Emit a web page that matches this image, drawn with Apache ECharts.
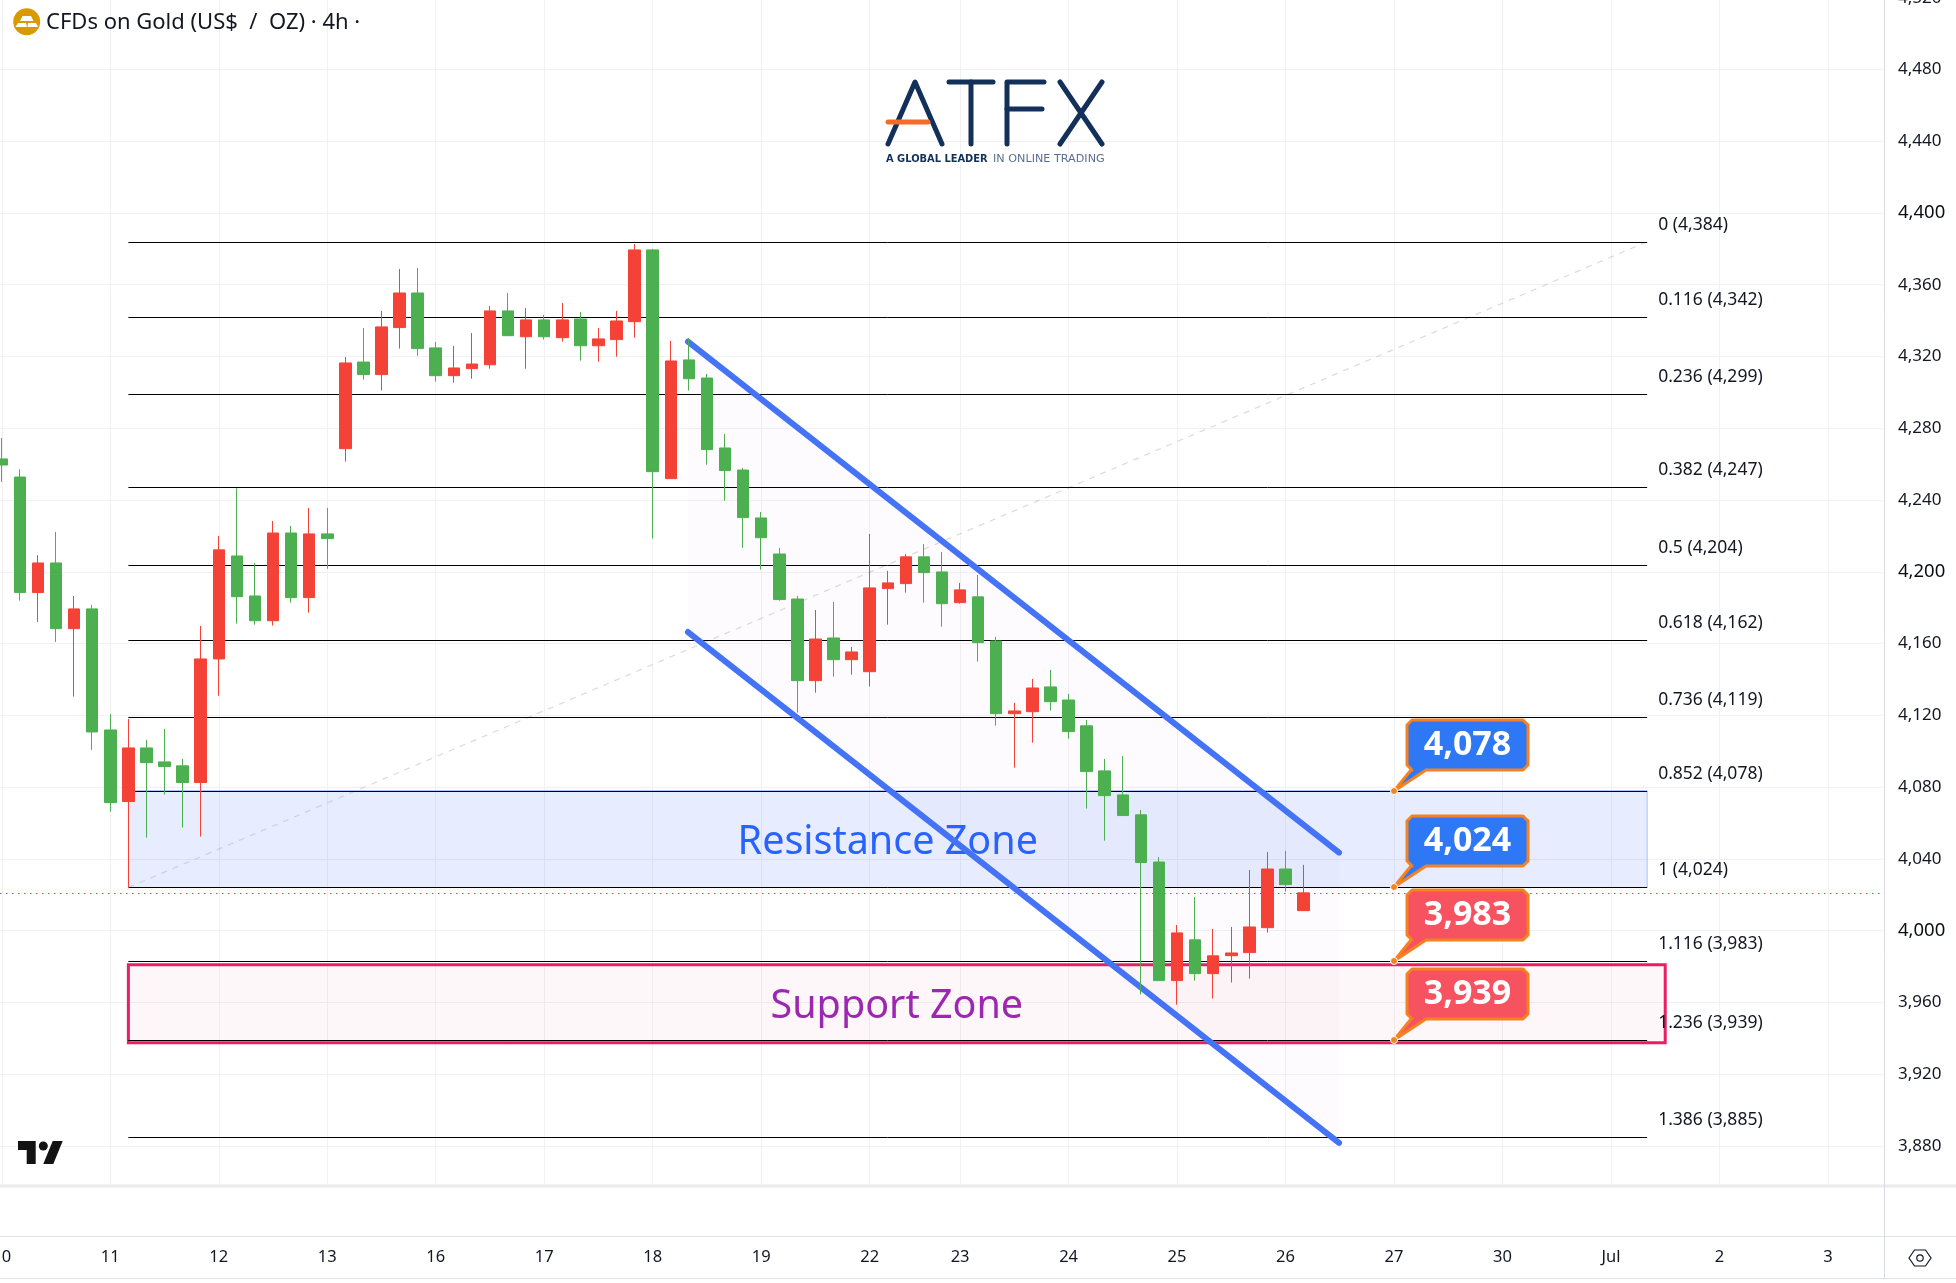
<!DOCTYPE html>
<html><head><meta charset="utf-8">
<style>html,body{margin:0;padding:0;background:#fff;overflow:hidden}#c{width:1956px;height:1283px}</style>
<script src="https://cdn.jsdelivr.net/npm/echarts@6/dist/echarts.min.js"></script>
</head><body><div id="c"></div>
<script>
// Bars: [open, close, low, high], one per 4h session slot
const candleValues = [
[4262.9,4259.5,4250.1,4274.6],[4252.8,4188.4,4183.9,4257.1],[4188.4,4204.9,4172,4209.2],[4204.9,4168.3,4160.9,4222.2],
[4168.3,4179.3,4130.4,4186.5],[4179.3,4110.7,4100.7,4181.5],[4111.8,4071.3,4066.3,4120.7],[4071.9,4101.8,4023.6,4118],
[4101.8,4093.6,4051.8,4106.3],[4094,4091.4,4075.8,4112.4],[4091.8,4082.5,4057.4,4095.7],[4082.5,4151.4,4052.4,4169.8],
[4151.4,4212.2,4130.9,4220],[4208.8,4186.1,4171.1,4246.5],[4186.5,4172.7,4170.5,4204.9],[4172.7,4221.6,4170,4228.3],
[4221.6,4185.6,4182.8,4225.5],[4185.6,4221.1,4177.2,4235.6],[4221.1,4218.5,4201.7,4235.6],[4268.6,4316.4,4261.4,4319.7],
[4316.9,4309.9,4307.1,4335.9],[4309.9,4336.5,4301,4345.4],[4336.1,4355.4,4324.4,4368.8],[4355.4,4324.4,4320.5,4369.3],
[4324.8,4309.3,4306,4328.1],[4309.3,4313.6,4305.4,4325.9],[4313.2,4315.8,4307.6,4333.1],[4315.4,4345.4,4313.2,4348.2],
[4345.4,4331.6,4331.6,4355.4],[4331,4340.4,4313.2,4347],[4340.4,4331,4329.4,4343.1],[4330.5,4340.4,4328.3,4349.8],
[4340.9,4326,4317.7,4344.8],[4326,4329.8,4317.1,4335.9],[4329.4,4339.8,4319.9,4345.4],[4339.4,4379.4,4330.5,4382.7],
[4379.4,4255.8,4218.5,4379.9],[4251.9,4317.5,4251.9,4328.7],[4318.1,4307.6,4301,4330.3],[4308,4268.1,4259.7,4310.3],
[4269,4256.4,4239.6,4276.8],[4256.7,4230.2,4213.4,4257.9],[4230,4219,4201.2,4233.3],[4209.9,4184.5,4183.9,4213.3],
[4184.8,4139.3,4121.5,4186.5],[4139.3,4162.5,4132.6,4178.7],[4163.1,4151,4141.5,4183.2],[4151,4155.3,4142.6,4158.1],
[4144.3,4191,4136,4221.1],[4190.6,4193.8,4170.5,4200.5],[4193.4,4208.3,4188.4,4209.9],[4208.3,4199.5,4182.8,4215.5],
[4199.9,4182.2,4169.4,4211],[4182.8,4189.9,4182.2,4193.8],[4186,4160.5,4149.9,4198.2],[4161.4,4120.9,4114.2,4163.7],
[4120.9,4122.4,4090.8,4126.9],[4122,4135.2,4104.7,4140.3],[4135.8,4127.6,4122.6,4145.3],[4128.5,4110.9,4107,4131.9],
[4114.1,4088.6,4068,4117.4],[4089,4075.2,4050.1,4095.7],[4075.6,4064.1,4064.1,4097.3],[4064.5,4037.9,3964.3,4067.2],
[4038.2,3972.1,3972.1,4041],[3972.1,3998.7,3958.7,4003.1],[3994.8,3976,3972.1,4018.7],[3976,3985.9,3962.1,4000.9],
[3986,3987.5,3971,4002],[3987.7,4002,3973.2,4033.8],[4001.6,4034.3,3998.8,4043.8],[4034.3,4025.6,4021.7,4044.4],
[4011.1,4021,4011.1,4036.6]
];
const dayTickIndex = [0,6,12,18,24,30,36,42,48,53,59,65,71,77,83,89,95,101];
const dayTickLabels = ['10','11','12','13','16','17','18','19','22','23','24','25','26','27','30','Jul','2','3'];
const priceTicks = [3880,3920,3960,4000,4040,4080,4120,4160,4200,4240,4280,4320,4360,4400,4440,4480,4520];
const strongPriceTicks = [4000,4200,4400];
const fibRatios = ['0','0.116','0.236','0.382','0.5','0.618','0.736','0.852','1','1.116','1.236','1.386'];
const fibPrices = [4384,4342,4299,4247,4204,4162,4119,4078,4024,3983,3939,3885];
const fibSpan = [7,91];
const resistanceZone = {from:7,to:91,high:4078,low:4024,label:'Resistance Zone',labelAt:[49,4049]};
const supportZone = {from:7,to:92,high:3981,low:3937.4,label:'Support Zone',labelAt:[49.5,3957.3]};
const channelUpper = [[37.95,4328.3],[73.96,4043.4]];
const channelLower = [[37.95,4166.4],[73.96,3881.6]];
const trendDashed = [[7,4024],[91,4384]];
const lastPrice = 4021;
const calloutIndex = 77;
const calloutPrices = [4078,4024,3983,3939];
const calloutTexts = ['4,078','4,024','3,983','3,939'];
const calloutColors = ['#2F78F5','#2F78F5','#F7525F','#F7525F'];

const UI = '"Noto Sans", sans-serif';
const ink = '#131722';
const candleData = candleValues.map((v,i)=>[i].concat(v));
const seg = (a,b,style)=>({type:'line',shape:{x1:a[0],y1:a[1],x2:b[0],y2:b[1]},style});

function custom(z, data, render){
  return {type:'custom',z,silent:true,clip:false,data,renderItem:render,coordinateSystem:'cartesian2d',
          encode:{x:0,y:1},animation:false};
}
const chart = echarts.init(document.getElementById('c'),null,{renderer:'canvas'});
const rectOf = (api,zone)=>{
  const a=api.coord([zone.from,zone.high]), b=api.coord([zone.to,zone.low]);
  return {x:a[0],y:a[1],width:b[0]-a[0],height:b[1]-a[1]};
};
chart.setOption({
  animation:false,
  backgroundColor:'#fff',
  grid:{left:0,right:72,top:-2.3,bottom:97,containLabel:false,outerBoundsMode:'none'},
  xAxis:{type:'value',min:-0.1,max:104.1,scale:true,containShape:false,
    axisLine:{show:false},
    axisTick:{show:false,customValues:dayTickIndex},
    splitLine:{show:true,lineStyle:{color:'#F1F1F3',width:1}},
    axisLabel:{show:true,customValues:dayTickIndex,margin:63,color:ink,fontFamily:UI,fontSize:16.5,hideOverlap:false,
      showMinLabel:true,showMaxLabel:true,
      formatter:v=>dayTickLabels[dayTickIndex.indexOf(v)]}},
  yAxis:{type:'value',position:'right',min:3857.6,max:4520,scale:true,containShape:false,
    axisLine:{show:false},
    axisTick:{show:false,customValues:priceTicks},
    splitLine:{show:true,lineStyle:{color:'#F1F1F3',width:1}},
    axisLabel:{show:true,customValues:priceTicks,margin:14,align:'left',color:ink,fontFamily:UI,fontSize:17,
      showMinLabel:true,showMaxLabel:true,
      formatter:v=>{const t=String(v).replace(/(\d)(\d{3})$/,'$1,$2');return strongPriceTicks.includes(v)?'{s|'+t+'}':t;},
      rich:{s:{fontSize:18.5,color:'#0b0e14',fontFamily:UI}}}},
  series:[
    custom(1,[[0,0]],(p,api)=>{
      const a=api.coord(channelUpper[0]),b=api.coord(channelUpper[1]),c=api.coord(channelLower[1]),d=api.coord(channelLower[0]);
      return {type:'polygon',shape:{points:[a,b,c,d]},style:{fill:'rgba(156,39,176,0.018)'}};
    }),
    custom(2,[[0,0]],(p,api)=>{
      return {type:'group',children:[
        {type:'rect',shape:rectOf(api,resistanceZone),style:{fill:'rgba(41,98,255,0.115)',stroke:'#A9C2FA',lineWidth:1}},
        {type:'rect',shape:rectOf(api,supportZone),style:{fill:'rgba(233,30,99,0.035)',stroke:'#E91E63',lineWidth:3}}
      ]};
    }),
    custom(3,[[0,0]],(p,api)=>{
      const a=api.coord(trendDashed[0]),b=api.coord(trendDashed[1]);
      return seg(a,b,{stroke:'rgba(170,170,170,0.42)',lineWidth:1.2,lineDash:[6,6]});
    }),
    custom(3,fibPrices.map((v,i)=>[i,v]),(p,api)=>{
      const i=api.value(0),v=api.value(1);
      const a=api.coord([fibSpan[0],v]),b=api.coord([fibSpan[1],v]);
      const y=Math.round(a[1])+0.5;
      return {type:'group',children:[
        seg([a[0],y],[b[0],y],{stroke:'#000',lineWidth:1}),
        {type:'text',style:{x:b[0]+11,y:y-17,text:fibRatios[i]+' ('+String(v).replace(/(\d)(\d{3})$/,'$1,$2')+')',
          fill:ink,font:'17.5px '+UI,textAlign:'left',textVerticalAlign:'middle'}}
      ]};
    }),
    custom(4,[[0,0]],(p,api)=>{
      const st={stroke:'#4573F6',lineWidth:6,lineCap:'round'};
      return {type:'group',children:[
        seg(api.coord(channelUpper[0]),api.coord(channelUpper[1]),st),
        seg(api.coord(channelLower[0]),api.coord(channelLower[1]),st)
      ]};
    }),
    custom(3,[[0,0]],(p,api)=>{
      return {type:'group',children:[resistanceZone,supportZone].map((z,k)=>{
        const c=api.coord(z.labelAt);
        return {type:'text',style:{x:c[0],y:c[1],text:z.label,fill:k?'#9C27B0':'#2962FF',font:'39.5px '+UI,textAlign:'center',textVerticalAlign:'middle'}};
      })};
    }),
    {type:'candlestick',z:5,silent:true,barWidth:12,data:candleData,
      dimensions:['i','open','close','low','high'],encode:{x:0,y:[1,2,3,4]},
      itemStyle:{color:'#F44336',color0:'#4CAF50',borderColor:'#F44336',borderColor0:'#4CAF50',borderWidth:1}},
    custom(6,[[0,0]],(p,api)=>{
      const y=Math.round(api.coord([0,lastPrice])[1])+0.5;
      const r=p.coordSys;
      return seg([r.x,y],[r.x+r.width,y],{stroke:'#F44336',lineWidth:1,lineDash:[1.5,4.5]});
    }),
    custom(7,calloutPrices.map((v,i)=>[i,v]),(p,api)=>{
      const i=api.value(0),v=api.value(1);
      const a=api.coord([calloutIndex,v]);
      const ax=a[0],ay=Math.round(a[1]);
      const L=ax+13,R=ax+134,T=ay-71,B=ay-21,r=5;
      const pts=[[L+r,T],[R-r,T],[R,T+r],[R,B-r],[R-r,B],[ax+32,B],[ax,ay],[ax+17,B],[L+r,B],[L,B-r],[L,T+r]];
      return {type:'group',children:[
        {type:'polygon',shape:{points:pts},style:{fill:calloutColors[i],stroke:'#F58220',lineWidth:3,lineJoin:'round'}},
        {type:'circle',shape:{cx:ax,cy:ay,r:3.5},style:{fill:'#F58220',stroke:'#fff',lineWidth:1}},
        {type:'text',style:{x:(L+R)/2,y:(T+B)/2,text:calloutTexts[i],fill:'#fff',font:'bold 34px '+UI,textAlign:'center',textVerticalAlign:'middle'}}
      ]};
    })
  ],
  graphic:[
    {type:'line',z:10,shape:{x1:0,y1:1186,x2:1956,y2:1186},style:{stroke:'#EBEBEE',lineWidth:3}},
    {type:'line',z:10,shape:{x1:0,y1:1236.5,x2:1956,y2:1236.5},style:{stroke:'#E0E3EB',lineWidth:1}},
    {type:'line',z:10,shape:{x1:0,y1:1278.5,x2:1956,y2:1278.5},style:{stroke:'#E0E3EB',lineWidth:1}},
    {type:'line',z:10,shape:{x1:1884.5,y1:0,x2:1884.5,y2:1279},style:{stroke:'#DADBE0',lineWidth:1}},
    {type:'polygon',z:10,shape:{points:[[1909,1258],[1914.5,1250],[1925.5,1250],[1931,1258],[1925.5,1266],[1914.5,1266]]},style:{fill:'none',stroke:ink,lineWidth:1.2}},
    {type:'circle',z:10,shape:{cx:1920,cy:1258,r:3.2},style:{fill:'none',stroke:ink,lineWidth:1.2}},
    {type:'circle',z:10,shape:{cx:26.7,cy:21.7,r:13.5},style:{fill:'#D99A00'}},
    {type:'polygon',z:11,shape:{points:[[22.5,16],[31,16],[33.5,21],[20,21]]},style:{fill:'#fff'}},
    {type:'polygon',z:11,shape:{points:[[18,23],[26,23],[27,27],[15.5,27]]},style:{fill:'#fff'}},
    {type:'polygon',z:11,shape:{points:[[28,23],[36,23],[38,27],[27.5,27]]},style:{fill:'#fff'}},
    {type:'text',z:11,style:{x:46,y:23,text:'CFDs on Gold (US$  /  OZ) \u00B7 4h \u00B7',fill:ink,font:'22px '+UI,textAlign:'left',textVerticalAlign:'middle'}},
    {type:'polygon',z:11,shape:{points:[[18,1141],[35.7,1141],[35.7,1164],[26.7,1164],[26.7,1150],[18,1150]]},style:{fill:'#131313'}},
    {type:'circle',z:11,shape:{cx:43.3,cy:1146,r:4.5},style:{fill:'#131313'}},
    {type:'polygon',z:11,shape:{points:[[52.7,1141],[62.7,1141],[53.3,1164],[43.3,1164]]},style:{fill:'#131313'}},
    {type:'polyline',z:11,shape:{points:[[888,144],[915,82],[942,144]]},style:{fill:'none',stroke:'#12305A',lineWidth:5,lineCap:'round',lineJoin:'round'}},
    {type:'line',z:12,shape:{x1:888,y1:122,x2:928,y2:122},style:{stroke:'#F46B2A',lineWidth:5,lineCap:'round'}},
    {type:'line',z:11,shape:{x1:949,y1:82,x2:993,y2:82},style:{stroke:'#12305A',lineWidth:5,lineCap:'round'}},
    {type:'line',z:11,shape:{x1:971,y1:82,x2:971,y2:144},style:{stroke:'#12305A',lineWidth:5,lineCap:'round'}},
    {type:'polyline',z:11,shape:{points:[[1044,82],[1007,82],[1007,144]]},style:{fill:'none',stroke:'#12305A',lineWidth:5,lineCap:'round',lineJoin:'round'}},
    {type:'line',z:11,shape:{x1:1007,y1:109,x2:1042,y2:109},style:{stroke:'#12305A',lineWidth:5,lineCap:'round'}},
    {type:'line',z:11,shape:{x1:1060,y1:82,x2:1102,y2:144},style:{stroke:'#12305A',lineWidth:5,lineCap:'round'}},
    {type:'line',z:11,shape:{x1:1102,y1:82,x2:1060,y2:144},style:{stroke:'#12305A',lineWidth:5,lineCap:'round'}},
    {type:'text',z:11,style:{x:886,y:159,text:'A GLOBAL LEADER',fill:'#12305A',font:'bold 9.9px "DejaVu Sans"',textAlign:'left',textVerticalAlign:'middle'}},
    {type:'text',z:11,style:{x:993,y:159,text:'IN ONLINE TRADING',fill:'#5b6f8c',font:'11.2px "DejaVu Sans"',textAlign:'left',textVerticalAlign:'middle'}}
  ]
});
</script></body></html>
